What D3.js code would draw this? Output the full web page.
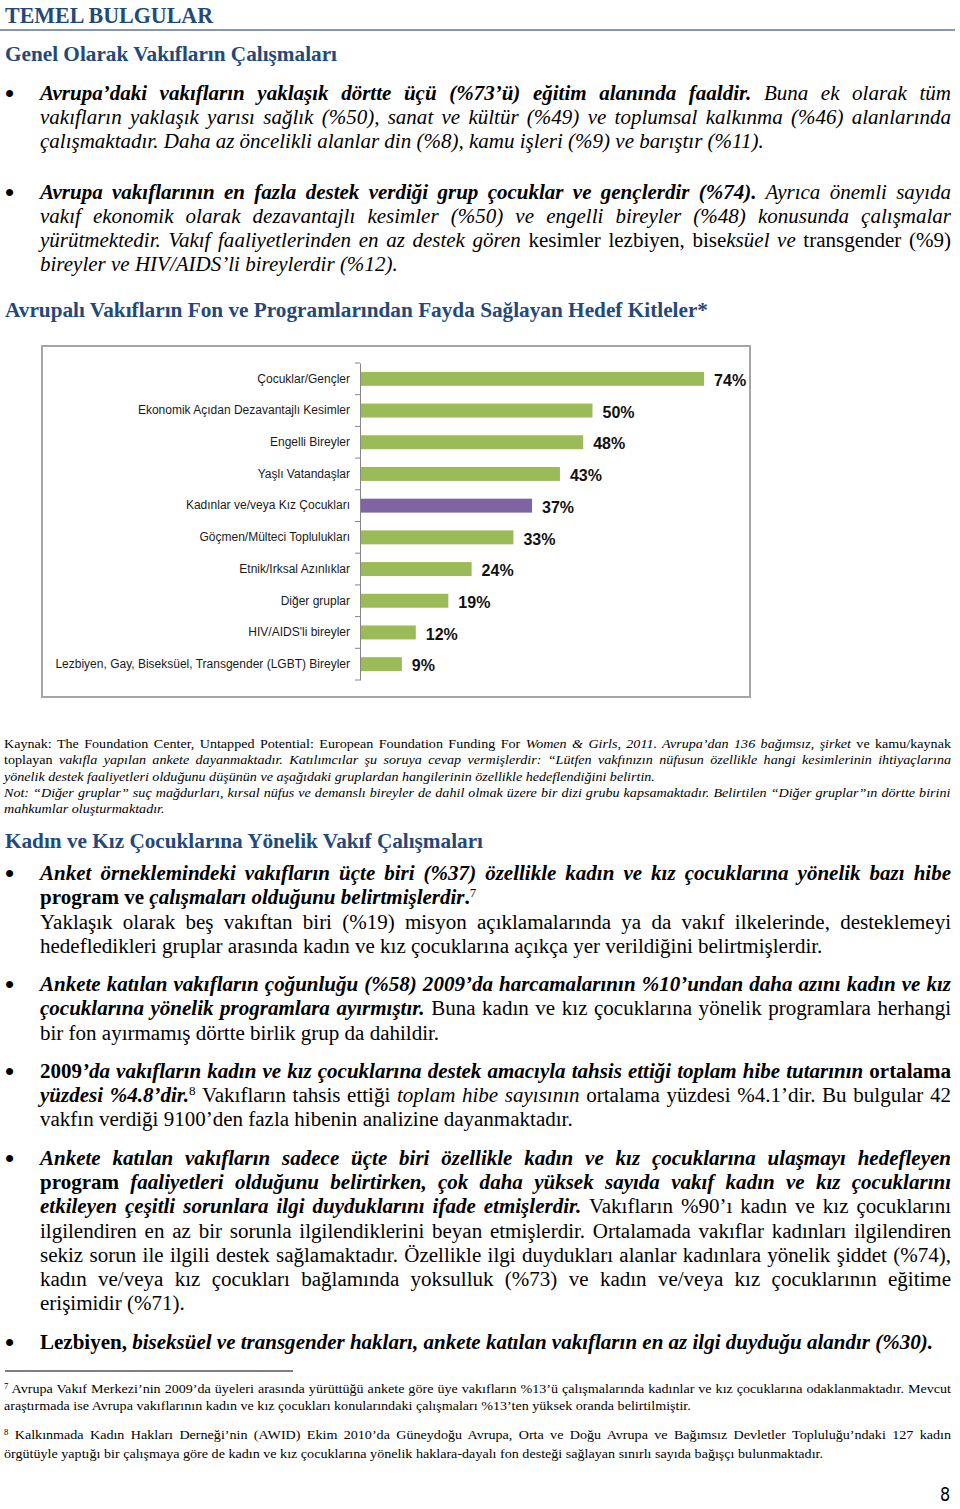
<!DOCTYPE html>
<html><head><meta charset="utf-8">
<script src="https://cdn.jsdelivr.net/npm/d3@7"></script>
<style>
body{margin:0;background:#fff;}
#page{position:relative;width:960px;height:1509px;overflow:hidden;font-family:"Liberation Serif","Times New Roman",serif;color:#000;background:#fff;}
#art{position:absolute;left:0;top:0;}
.ln{position:absolute;white-space:nowrap;transform-origin:0 50%;}
.b{font-weight:bold}.i{font-style:italic}.bi{font-weight:bold;font-style:italic}.r{}
.hd{font-weight:bold;color:#23497a;}
sup{font-size:0.62em;vertical-align:0;position:relative;top:-0.55em}
</style></head><body><div id="page"><svg id="art" width="960" height="1509"></svg></div>
<script>
// ---------- chart data ----------
const categories = ["Çocuklar/Gençler","Ekonomik Açıdan Dezavantajlı Kesimler","Engelli Bireyler","Yaşlı Vatandaşlar","Kadınlar ve/veya Kız Çocukları","Göçmen/Mülteci Toplulukları","Etnik/Irksal Azınlıklar","Diğer gruplar","HIV/AIDS'li bireyler","Lezbiyen, Gay, Biseksüel, Transgender (LGBT) Bireyler"];
const values = [74,50,48,43,37,33,24,19,12,9];
const highlighted = ["Kadınlar ve/veya Kız Çocukları"];
const valueSuffix = "%";

// ---------- text content ----------
const headingMain = "TEMEL BULGULAR";
const heading1 = "Genel Olarak Vakıfların Çalışmaları";
const chartTitle = "Avrupalı Vakıfların Fon ve Programlarından Fayda Sağlayan Hedef Kitleler*";
const heading2 = "Kadın ve Kız Çocuklarına Yönelik Vakıf Çalışmaları";
const pageNumber = "8";

const para1 = [
 {j:1,s:[["bi","Avrupa’daki vakıfların yaklaşık dörtte üçü (%73’ü) eğitim alanında faaldir."],["i"," Buna ek olarak tüm"]]},
 {j:1,s:[["i","vakıfların yaklaşık yarısı sağlık (%50), sanat ve kültür (%49) ve toplumsal kalkınma (%46) alanlarında"]]},
 {j:0,s:[["i","çalışmaktadır. Daha az öncelikli alanlar din (%8), kamu işleri (%9) ve barıştır (%11)."]]}
];
const para2 = [
 {j:1,s:[["bi","Avrupa vakıflarının en fazla destek verdiği grup çocuklar ve gençlerdir (%74)."],["i"," Ayrıca önemli sayıda"]]},
 {j:1,s:[["i","vakıf ekonomik olarak dezavantajlı kesimler (%50) ve engelli bireyler (%48) konusunda çalışmalar"]]},
 {j:1,s:[["i","yürütmektedir. Vakıf faaliyetlerinden en az destek gören"],["r"," kesimler lezbiyen, bise"],["i","ksüel ve"],["r"," transgender (%9)"]]},
 {j:0,s:[["i","bireyler ve HIV/AIDS’li bireylerdir (%12)."]]}
];
const source = [
 {j:1,s:[["r","Kaynak: The Foundation Center, Untapped Potential: European Foundation Funding For "],["i","Women & Girls, 2011. Avrupa’dan 136 bağımsız, şirket"],["r"," ve kamu/kaynak"]]},
 {j:1,s:[["r","toplayan "],["i","vakıfla yapılan ankete dayanmaktadır. Katılımcılar şu soruya cevap vermişlerdir: “Lütfen vakfınızın nüfusun özellikle hangi kesimlerinin ihtiyaçlarına"]]},
 {j:0,s:[["i","yönelik destek faaliyetleri olduğunu düşünün ve aşağıdaki gruplardan hangilerinin özellikle hedeflendiğini belirtin."]]},
 {j:1,s:[["i","Not: “Diğer gruplar” suç mağdurları, kırsal nüfus ve demanslı bireyler de dahil olmak üzere bir dizi grubu kapsamaktadır.  Belirtilen “Diğer gruplar”ın dörtte birini"]]},
 {j:0,s:[["i","mahkumlar oluşturmaktadır."]]}
];
const para3 = [
 {j:1,s:[["bi","Anket örneklemindeki vakıfların üçte biri (%37) özellikle kadın ve kız çocuklarına yönelik bazı hibe"]]},
 {j:0,s:[["b","program ve "],["bi","çalışmaları olduğunu belirtmişlerdir"],["b","."],["sup","7"]]},
 {j:1,s:[["r","Yaklaşık olarak beş vakıftan biri (%19) misyon açıklamalarında ya da vakıf ilkelerinde, desteklemeyi"]]},
 {j:0,s:[["r","hedefledikleri gruplar arasında kadın ve kız çocuklarına açıkça yer verildiğini belirtmişlerdir."]]}
];
const para4 = [
 {j:1,s:[["bi","Ankete katılan vakıfların çoğunluğu (%58) 2009’da harcamalarının %10’undan daha azını kadın ve kız"]]},
 {j:1,s:[["bi","çocuklarına yönelik programlara ayırmıştır."],["r"," Buna kadın ve kız çocuklarına yönelik programlara herhangi"]]},
 {j:0,s:[["r","bir fon ayırmamış dörtte birlik grup da dahildir."]]}
];
const para5 = [
 {j:1,s:[["b","2009"],["bi","’da vakıfların kadın ve kız çocuklarına destek amacıyla tahsis ettiği toplam hibe tutarının"],["b"," ortalama"]]},
 {j:1,s:[["bi","yüzdesi %4.8’dir."],["sup","8"],["r"," Vakıfların tahsis ettiği "],["i","toplam hibe sayısının"],["r"," ortalama yüzdesi %4.1’dir. Bu bulgular 42"]]},
 {j:0,s:[["r","vakfın verdiği 9100’den fazla hibenin analizine dayanmaktadır."]]}
];
const para6 = [
 {j:1,s:[["bi","Ankete katılan vakıfların sadece üçte biri özellikle kadın ve kız çocuklarına ulaşmayı hedefleyen"]]},
 {j:1,s:[["b","program "],["bi","faaliyetleri olduğunu belirtirken, çok daha yüksek sayıda vakıf kadın ve kız çocuklarını"]]},
 {j:1,s:[["bi","etkileyen çeşitli sorunlara ilgi duyduklarını ifade etmişlerdir."],["r"," Vakıfların %90’ı kadın ve kız çocuklarını"]]},
 {j:1,s:[["r","ilgilendiren en az bir sorunla ilgilendiklerini beyan etmişlerdir. Ortalamada vakıflar kadınları ilgilendiren"]]},
 {j:1,s:[["r","sekiz sorun ile ilgili destek sağlamaktadır. Özellikle ilgi duydukları alanlar kadınlara yönelik şiddet (%74),"]]},
 {j:1,s:[["r","kadın ve/veya kız çocukları bağlamında yoksulluk (%73) ve kadın ve/veya kız çocuklarının eğitime"]]},
 {j:0,s:[["r","erişimidir (%71)."]]}
];
const para7 = [
 {j:0,s:[["b","Lezbiyen, "],["bi","biseksüel ve transgender hakları, ankete katılan vakıfların en az ilgi duyduğu alandır (%30)."]]}
];
const foot7 = [
 {j:1,s:[["sup","7"],["r"," Avrupa Vakıf Merkezi’nin 2009’da üyeleri arasında yürüttüğü ankete göre üye vakıfların %13’ü çalışmalarında kadınlar ve kız çocuklarına odaklanmaktadır. Mevcut"]]},
 {j:0,s:[["r","araştırmada ise Avrupa vakıflarının kadın ve kız çocukları konularındaki çalışmaları %13’ten yüksek oranda belirtilmiştir."]]}
];
const foot8 = [
 {j:1,s:[["sup","8"],["r"," Kalkınmada Kadın Hakları Derneği’nin (AWID) Ekim 2010’da Güneydoğu Avrupa, Orta ve Doğu Avrupa ve Bağımsız Devletler Topluluğu’ndaki 127 kadın"]]},
 {j:0,s:[["r","örgütüyle yaptığı bir çalışmaya göre de kadın ve kız çocuklarına yönelik haklara-dayalı fon desteği sağlayan sınırlı sayıda bağışçı bulunmaktadır."]]}
];

// ---------- layout ----------
const page = d3.select("#page");
const svg = d3.select("#art");
const BODY = {x:40, w:911, size:20, calib:893};
const SMALL = {x:4, w:947, size:13, calib:819};

const blocks = [
 {lines:para1, y:93, lh:24, kind:BODY, bullet:true},
 {lines:para2, y:192, lh:24, kind:BODY, bullet:true},
 {lines:source, y:744, lh:16.2, kind:SMALL},
 {lines:para3, y:873, lh:24.3, kind:BODY, bullet:true},
 {lines:para4, y:984, lh:24.3, kind:BODY, bullet:true},
 {lines:para5, y:1071, lh:24, kind:BODY, bullet:true},
 {lines:para6, y:1158, lh:24.2, kind:BODY, bullet:true},
 {lines:para7, y:1342, lh:24, kind:BODY, bullet:true, calibLine:true},
 {lines:foot7, y:1389, lh:16.5, kind:SMALL},
 {lines:foot8, y:1435, lh:18.5, kind:SMALL, calibLine:true}
];

const rendered = [];
blocks.forEach(b => {
  const K = b.kind;
  b.lines.forEach((ln, i) => {
    const cy = b.y + i*b.lh;
    const div = page.append("div").attr("class","ln")
      .style("left", K.x+"px").style("top", (cy - K.size*0.6)+"px")
      .style("font-size", K.size+"px").style("line-height",(K.size*1.2)+"px");
    ln.s.forEach(([st,t]) => {
      if (st === "sup") div.append("sup").text(t);
      else div.append("span").attr("class", st).text(t);
    });
    rendered.push({div, ln, K, calib: b.calibLine && i === b.lines.length-1});
  });
  if (b.bullet) {
    page.append("div").attr("class","ln").text("•")
      .style("left","5px").style("top",(b.y - 15)+"px")
      .style("font-size","26px").style("line-height","30px").style("font-family","'Liberation Sans',Arial,sans-serif");
  }
});

// headings
const headings = [
 {t:headingMain, x:5, cy:15, size:24, w:208},
 {t:heading1, x:5, cy:55, size:21, w:332},
 {t:chartTitle, x:5, cy:311, size:21, w:703},
 {t:heading2, x:5, cy:842, size:21, w:478}
];
headings.forEach(h => {
  const d = page.append("div").attr("class","ln hd").text(h.t)
    .style("left",h.x+"px").style("top",(h.cy - h.size*0.6)+"px")
    .style("font-size",h.size+"px").style("line-height",(h.size*1.2)+"px");
  const n = d.node().getBoundingClientRect().width;
  d.style("transform",`scaleX(${h.w/n})`);
});

page.append("div").attr("class","ln").text(pageNumber)
  .style("left","940px").style("top","1483px").style("font-size","20px").style("line-height","22px")
  .style("font-family","'DejaVu Sans',sans-serif").style("transform","scaleX(0.8)");

// fit & justify
function fit() {
  const kFor = new Map();
  rendered.filter(r => r.calib).forEach(r => {
    const n = r.div.node().getBoundingClientRect().width;
    kFor.set(r.K, r.K.calib / n);
  });
  rendered.forEach(r => {
    const k = kFor.get(r.K) || 1;
    const node = r.div.node();
    const n = node.getBoundingClientRect().width;
    const txt = r.ln.s.map(s=>s[1]).join("");
    const spaces = (txt.match(/ /g)||[]).length;
    if (r.ln.j && spaces) {
      const ws = (r.K.w/k - n)/spaces;
      r.div.style("word-spacing", ws+"px");
    }
    r.div.style("transform",`scaleX(${k})`);
  });
}
fit();

// rules
svg.append("line").attr("x1",0).attr("x2",955).attr("y1",30).attr("y2",30)
  .attr("stroke","#5d7394").attr("stroke-width",1.6);
svg.append("line").attr("x1",5).attr("x2",293).attr("y1",1371).attr("y2",1371)
  .attr("stroke","#000").attr("stroke-width",1.2);

// ---------- chart ----------
const frame = {x:42, y:346, w:708, h:351};
const plot = {left:360, top:363, bottom:680};
svg.append("rect").attr("x",frame.x).attr("y",frame.y).attr("width",frame.w).attr("height",frame.h)
  .attr("fill","#fff").attr("stroke","#a5a5a5").attr("stroke-width",2);

const x = d3.scaleLinear().domain([0,100]).range([plot.left, plot.left + 465]);
const y = d3.scaleBand().domain(categories).range([plot.top, plot.bottom]).paddingInner(0.56).paddingOuter(0.28);
const data = categories.map((c,i)=>({c, v:values[i]}));

const g = svg.append("g");
g.selectAll("rect.bar").data(data).join("rect").attr("class","bar")
  .attr("x", x(0)).attr("y", d=>y(d.c)).attr("height", y.bandwidth())
  .attr("width", d=>x(d.v)-x(0))
  .attr("fill", d=> highlighted.includes(d.c) ? "#8064a2" : "#9bbb59");

// axis
const axisG = g.append("g").attr("transform",`translate(${x(0)},0)`)
  .call(d3.axisLeft(y).tickSize(0).tickPadding(10).tickSizeOuter(0));
axisG.select(".domain").attr("stroke","#868686").attr("stroke-width",1);
axisG.selectAll(".tick text").attr("font-family","'Liberation Sans',Arial,sans-serif")
  .attr("font-size","12px").attr("fill","#1a1a1a");
const step = y.step();
const bounds = d3.range(categories.length+1).map(i => plot.top + i*step);
g.selectAll("line.tk").data(bounds).join("line").attr("class","tk")
  .attr("x1", x(0)-5).attr("x2", x(0)).attr("y1", d=>d).attr("y2", d=>d)
  .attr("stroke","#868686");

g.selectAll("text.val").data(data).join("text").attr("class","val")
  .attr("x", d=>x(d.v)+10).attr("y", d=>y(d.c)+y.bandwidth()/2).attr("dy","0.45em")
  .attr("font-family","'Liberation Sans',Arial,sans-serif").attr("font-weight","bold")
  .attr("font-size","16px").attr("fill","#111")
  .text(d=>d.v+valueSuffix);
</script></body></html>
